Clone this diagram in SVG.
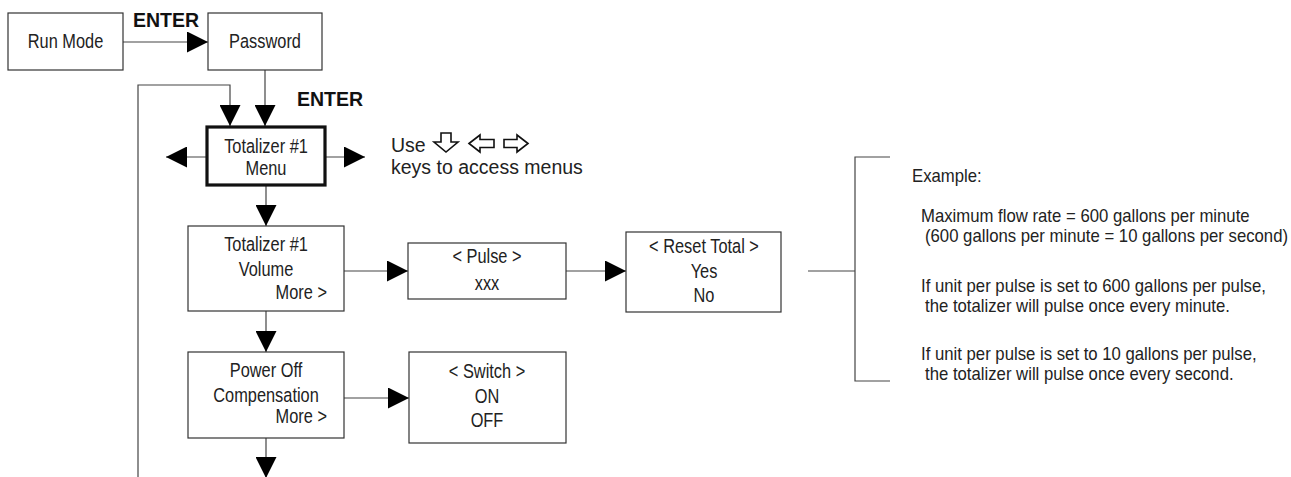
<svg xmlns="http://www.w3.org/2000/svg" width="1291" height="477" viewBox="0 0 1291 477">
<defs>
<style>
.box{fill:#fff;stroke:#333;stroke-width:1.2}
.thick{fill:#fff;stroke:#111;stroke-width:3.2}
.ln{fill:none;stroke:#444;stroke-width:1.2}
.t{font-family:"Liberation Sans",Arial,sans-serif;font-size:19.5px;fill:#222}
.c{text-anchor:middle}
.r{text-anchor:end}
.ex{font-family:"Liberation Sans",Arial,sans-serif;font-size:17.8px;fill:#222}
.use{font-family:"Liberation Sans",Arial,sans-serif;font-size:19.5px;fill:#222}
.b{font-family:"Liberation Sans",Arial,sans-serif;font-size:19.5px;font-weight:bold;fill:#111}
.key{fill:#fff;stroke:#111;stroke-width:1.6;stroke-linejoin:miter}
</style>
<marker id="ah" viewBox="0 0 21 21" refX="21" refY="10.5" markerWidth="21" markerHeight="21" markerUnits="userSpaceOnUse" orient="auto">
<path d="M0,0 L21,10.5 L0,21 Z" fill="#000"/>
</marker>
</defs>
<rect width="1291" height="477" fill="#fff"/>

<g id="connectors">
<line class="ln" x1="123" y1="42" x2="208" y2="42" marker-end="url(#ah)"/>
<line class="ln" x1="265" y1="70" x2="265" y2="126" marker-end="url(#ah)"/>
<polyline class="ln" points="138,477 138,85 230,85 230,126" marker-end="url(#ah)"/>
<line class="ln" x1="207" y1="157" x2="166" y2="157" marker-end="url(#ah)"/>
<line class="ln" x1="325" y1="157" x2="365" y2="157" marker-end="url(#ah)"/>
<line class="ln" x1="266" y1="186" x2="266" y2="226" marker-end="url(#ah)"/>
<line class="ln" x1="266" y1="311" x2="266" y2="352" marker-end="url(#ah)"/>
<line class="ln" x1="266" y1="438" x2="266" y2="478" marker-end="url(#ah)"/>
<line class="ln" x1="344" y1="271" x2="408" y2="271" marker-end="url(#ah)"/>
<line class="ln" x1="566" y1="271" x2="626" y2="271" marker-end="url(#ah)"/>
<line class="ln" x1="344" y1="398" x2="409" y2="398" marker-end="url(#ah)"/>
<line class="ln" x1="808" y1="271" x2="855" y2="271"/>
<polyline class="ln" points="890,157 855,157 855,381 890,381"/>
</g>

<g id="label-enter1"><text class="b" x="133" y="27">ENTER</text></g>
<g id="label-enter2"><text class="b" x="297" y="106">ENTER</text></g>

<g id="run-mode">
<rect class="box" x="8" y="13" width="115" height="57"/>
<text class="t c" transform="translate(65.5,48) scale(0.84,1)">Run Mode</text>
</g>

<g id="password">
<rect class="box" x="208" y="13" width="114" height="57"/>
<text class="t c" transform="translate(265,48) scale(0.84,1)">Password</text>
</g>

<g id="totalizer-menu">
<rect class="thick" x="207" y="127" width="118" height="58"/>
<text class="t c" transform="translate(266,153) scale(0.84,1)">Totalizer #1</text>
<text class="t c" transform="translate(266,175) scale(0.84,1)">Menu</text>
</g>

<g id="keys-hint">
<text class="use" x="391" y="152">Use</text>
<polygon class="key" points="441,133 451,133 451,142 458,142 446,152 434,142 441,142"/>
<polygon class="key" points="469,143.5 480,135 480,139.5 494,139.5 494,147.5 480,147.5 480,152"/>
<polygon class="key" points="528,143.5 517,135 517,139.5 504,139.5 504,147.5 517,147.5 517,152"/>
<text class="use" x="391" y="174">keys to access menus</text>
</g>

<g id="totalizer-volume">
<rect class="box" x="188" y="226" width="156" height="85"/>
<text class="t c" transform="translate(266,251) scale(0.84,1)">Totalizer #1</text>
<text class="t c" transform="translate(266,276) scale(0.84,1)">Volume</text>
<text class="t r" transform="translate(327,299) scale(0.84,1)">More &gt;</text>
</g>

<g id="pulse">
<rect class="box" x="408" y="243" width="158" height="56"/>
<text class="t c" transform="translate(487,263) scale(0.84,1)">&lt; Pulse &gt;</text>
<text class="t c" transform="translate(487,290) scale(0.84,1)">xxx</text>
</g>

<g id="reset-total">
<rect class="box" x="626" y="232" width="155" height="80"/>
<text class="t c" transform="translate(704,253) scale(0.84,1)">&lt; Reset Total &gt;</text>
<text class="t c" transform="translate(704,278) scale(0.84,1)">Yes</text>
<text class="t c" transform="translate(704,302) scale(0.84,1)">No</text>
</g>

<g id="power-off">
<rect class="box" x="188" y="352" width="156" height="86"/>
<text class="t c" transform="translate(266,377) scale(0.84,1)">Power Off</text>
<text class="t c" transform="translate(266,402) scale(0.84,1)">Compensation</text>
<text class="t r" transform="translate(327,423) scale(0.84,1)">More &gt;</text>
</g>

<g id="switch">
<rect class="box" x="409" y="352" width="157" height="91"/>
<text class="t c" transform="translate(487,378) scale(0.84,1)">&lt; Switch &gt;</text>
<text class="t c" transform="translate(487,403) scale(0.84,1)">ON</text>
<text class="t c" transform="translate(487,427) scale(0.84,1)">OFF</text>
</g>

<g id="example-note">
<text class="ex" transform="translate(912,182) scale(0.94,1)">Example:</text>
<text class="ex" transform="translate(921,222) scale(0.94,1)">Maximum flow rate = 600 gallons per minute</text>
<text class="ex" transform="translate(925,242) scale(0.94,1)">(600 gallons per minute = 10 gallons per second)</text>
<text class="ex" transform="translate(921,292) scale(0.94,1)">If unit per pulse is set to 600 gallons per pulse,</text>
<text class="ex" transform="translate(925,312) scale(0.94,1)">the totalizer will pulse once every minute.</text>
<text class="ex" transform="translate(921,360) scale(0.94,1)">If unit per pulse is set to 10 gallons per pulse,</text>
<text class="ex" transform="translate(925,380) scale(0.94,1)">the totalizer will pulse once every second.</text>
</g>
</svg>
